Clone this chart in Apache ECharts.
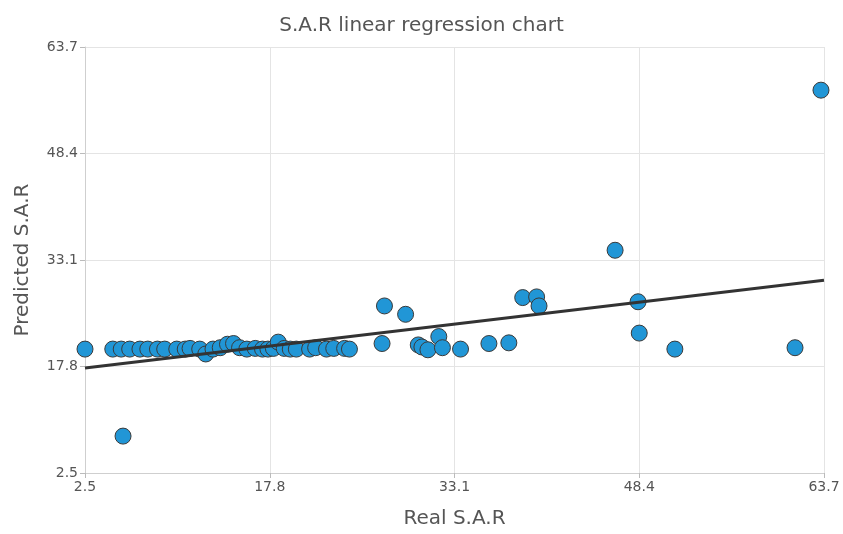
<!DOCTYPE html>
<html>
<head>
<meta charset="utf-8">
<script src="https://cdn.jsdelivr.net/npm/echarts@6/dist/echarts.min.js"></script>
<style>html,body{margin:0;padding:0;background:#fff}#c{width:843px;height:534px}</style>
</head>
<body>
<div id="c"></div>
<script>
var titleText = 'S.A.R linear regression chart';
var xName = 'Real S.A.R';
var yName = 'Predicted S.A.R';
var axisMin = 2.5;
var axisMax = 63.7;
var axisStep = 15.3;
var tickLabels = ['2.5', '17.8', '33.1', '48.4', '63.7'];

var realSAR = [2.5, 4.8, 5.5, 6.2, 7.05, 7.7, 8.5, 9.1, 10.1, 10.8, 11.2, 12.0, 12.5, 13.1, 13.7, 14.3, 14.8, 15.3, 15.9, 16.6, 17.2, 17.65, 18.1, 18.5, 19.0, 19.5, 20.0, 21.1, 21.6, 22.5, 23.1, 24.0, 24.4,
  5.65, 27.3, 29.05, 27.1, 30.1, 30.4, 30.9, 31.8, 32.1, 33.6, 35.95, 37.6, 38.75, 39.9, 40.1, 46.4, 48.3, 48.4, 51.35, 61.3, 63.45];
var predictedSAR = [20.3, 20.3, 20.3, 20.3, 20.3, 20.3, 20.3, 20.3, 20.3, 20.3, 20.4, 20.3, 19.6, 20.3, 20.5, 21.0, 21.1, 20.5, 20.3, 20.4, 20.3, 20.3, 20.4, 21.3, 20.4, 20.3, 20.3, 20.3, 20.5, 20.3, 20.4, 20.4, 20.3,
  7.8, 26.5, 25.3, 21.1, 20.9, 20.6, 20.2, 22.1, 20.5, 20.3, 21.1, 21.2, 27.7, 27.8, 26.5, 34.5, 27.1, 22.6, 20.3, 20.5, 57.5];
var regressionX = [2.5, 63.7];
var regressionY = [17.6, 30.2];

var points = realSAR.map(function (x, i) { return [x, predictedSAR[i]]; });
var linePts = regressionX.map(function (x, i) { return [x, regressionY[i]]; });

var font = 'Tahoma, "DejaVu Sans", Verdana, sans-serif';
function fmt(v) {
  var idx = Math.round((v - axisMin) / axisStep);
  return tickLabels[idx] !== undefined ? tickLabels[idx] : '';
}
var axisCommon = {
  type: 'value', min: axisMin, max: axisMax, interval: axisStep,
  nameLocation: 'middle',
  nameTextStyle: { fontFamily: font, fontSize: 20, color: '#555' },
  axisLine: { show: true, lineStyle: { color: '#cfcfcf' } },
  axisTick: { show: true, length: 5, lineStyle: { color: '#bbb' } },
  splitLine: { show: true, lineStyle: { color: '#e4e4e4' } },
  axisLabel: { formatter: fmt, fontFamily: font, fontSize: 14, color: '#555' }
};
var chart = echarts.init(document.getElementById('c'));
chart.setOption({
  animation: false,
  backgroundColor: '#fff',
  title: { text: titleText, left: 'center', top: 11, textStyle: { fontFamily: font, fontSize: 20, fontWeight: 'normal', color: '#555' } },
  grid: { left: 85, right: 19, top: 47, bottom: 61 },
  xAxis: Object.assign({}, axisCommon, { name: xName, nameGap: 36, axisLabel: Object.assign({}, axisCommon.axisLabel, { margin: 7 }) }),
  yAxis: Object.assign({}, axisCommon, { name: yName, nameGap: 52, axisLabel: Object.assign({}, axisCommon.axisLabel, { margin: 7 }) }),
  series: [
    { type: 'scatter', data: points, symbol: 'circle', symbolSize: 16, clip: false,
      itemStyle: { color: '#2196d6', borderColor: '#3a3a3a', borderWidth: 1, opacity: 1 }, z: 2 },
    { type: 'line', data: linePts, symbol: 'none', lineStyle: { color: '#333', width: 3 }, z: 3 }
  ]
});
</script>
</body>
</html>
